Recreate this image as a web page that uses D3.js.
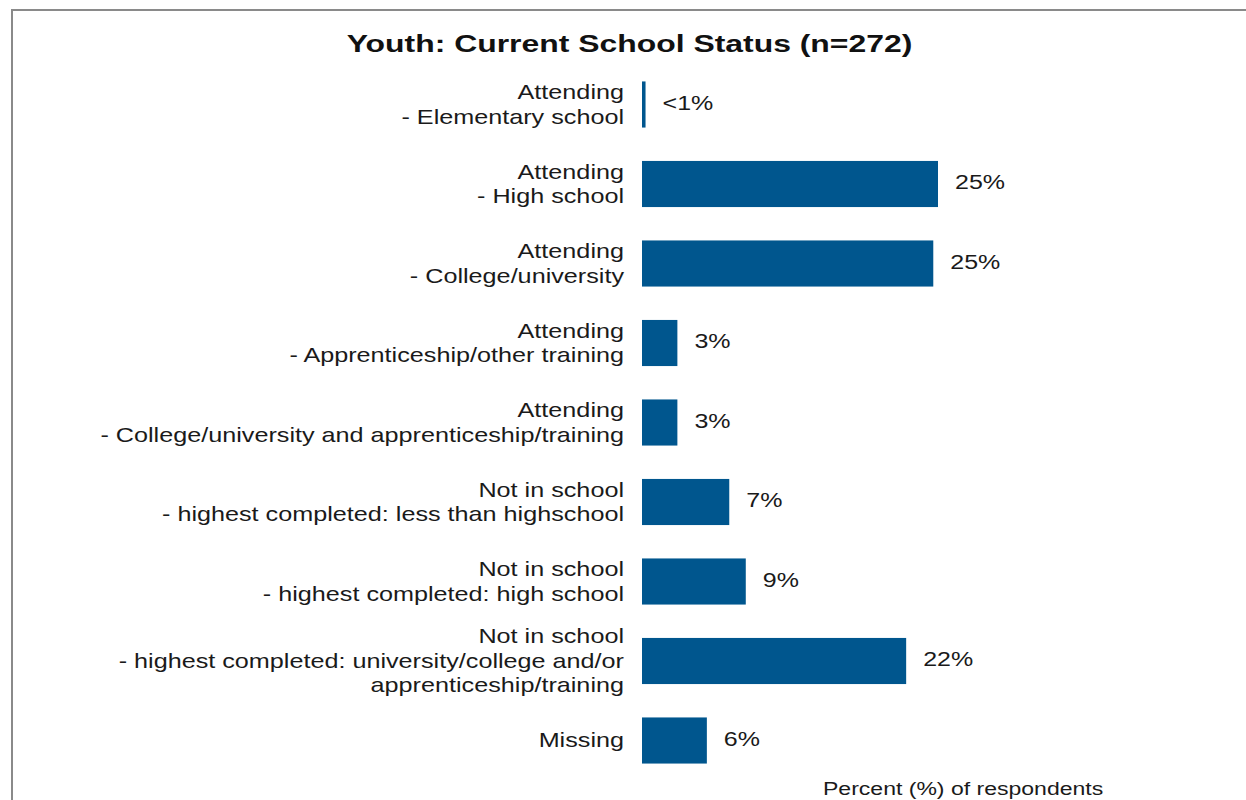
<!DOCTYPE html>
<html>
<head>
<meta charset="utf-8">
<script src="https://cdn.jsdelivr.net/npm/d3@7"></script>
<style>
  html, body { margin: 0; padding: 0; background: #fff; }
  svg { display: block; font-family: "Liberation Sans", Arial, sans-serif; }
</style>
</head>
<body>
<svg id="chart" width="1246" height="800"></svg>
<script>
// Category labels (each entry is a list of lines)
const categories = [
  ["Attending", "- Elementary school"],
  ["Attending", "- High school"],
  ["Attending", "- College/university"],
  ["Attending", "- Apprenticeship/other training"],
  ["Attending", "- College/university and apprenticeship/training"],
  ["Not in school", "- highest completed: less than highschool"],
  ["Not in school", "- highest completed: high school"],
  ["Not in school", "- highest completed: university/college and/or", "apprenticeship/training"],
  ["Missing"]
];
// Percent of respondents per category
const values = [0.3, 25.1, 24.7, 3.0, 3.0, 7.4, 8.8, 22.4, 5.5];
const valueLabels = values.map(v => v < 1 ? "<1%" : Math.round(v) + "%");

const title = "Youth: Current School Status (n=272)";
const axisTitle = "Percent (%) of respondents";

const svg = d3.select("#chart");

// Text is set in a horizontally widened face
const STRETCH = 1.26;
const wide = (ax, ay, s = STRETCH) => `translate(${ax},${ay}) scale(${s},1)`;

// Outer frame
svg.append("rect")
  .attr("x", 12).attr("y", 10)
  .attr("width", 1260).attr("height", 820)
  .attr("fill", "none").attr("stroke", "#8a8a8a").attr("stroke-width", 2);

const x0 = 642;
const x = d3.scaleLinear().domain([0, 25.1]).range([x0, 938]);
const y = d3.scaleBand()
  .domain(d3.range(categories.length))
  .range([64.75, 780.25])
  .paddingInner(0.42)
  .paddingOuter(0.21);

svg.append("text")
  .attr("transform", wide(629.5, 52, 1.33))
  .attr("text-anchor", "middle")
  .attr("font-size", 24).attr("font-weight", "bold")
  .attr("fill", "#111")
  .text(title);

svg.append("g").selectAll("rect")
  .data(values)
  .join("rect")
  .attr("x", x0)
  .attr("y", (d, i) => y(i))
  .attr("width", d => x(d) - x0)
  .attr("height", y.bandwidth())
  .attr("fill", "#00568e");

// Category labels, right-aligned and vertically centred on each bar
const lineH = 24.5;
svg.append("g").selectAll("text")
  .data(categories)
  .join("text")
  .attr("text-anchor", "end")
  .attr("font-size", 20)
  .attr("fill", "#1a1a1a")
  .attr("transform", wide(624, 0))
  .each(function(lines, i) {
    const cy = y(i) + y.bandwidth() / 2;
    const top = cy - (lines.length - 1) * lineH / 2;
    d3.select(this).selectAll("tspan")
      .data(lines)
      .join("tspan")
      .attr("x", 0)
      .attr("y", (d, k) => top + k * lineH + 7)
      .text(d => d);
  });

svg.append("g").selectAll("text")
  .data(values)
  .join("text")
  .attr("transform", (d, i) => wide(x(d) + 17, y(i) + y.bandwidth() / 2 + 5, 1.25))
  .attr("font-size", 20)
  .attr("fill", "#1a1a1a")
  .text((d, i) => valueLabels[i]);

svg.append("text")
  .attr("transform", wide(823, 795, 1.28))
  .attr("font-size", 18)
  .attr("fill", "#1a1a1a")
  .text(axisTitle);
</script>
</body>
</html>
